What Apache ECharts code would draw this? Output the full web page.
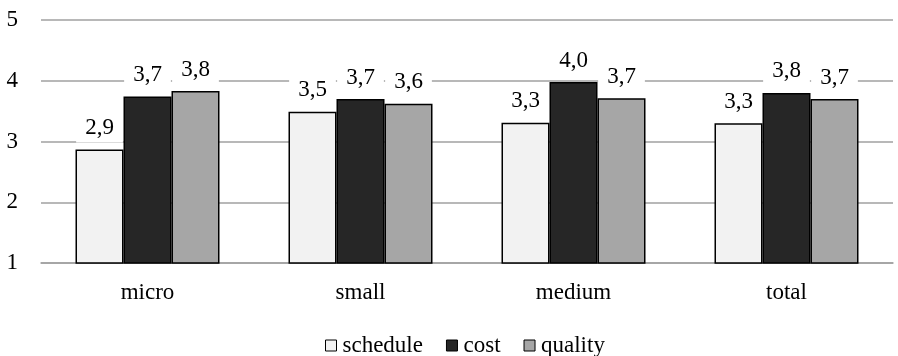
<!DOCTYPE html>
<html>
<head>
<meta charset="utf-8">
<script src="https://cdn.jsdelivr.net/npm/echarts@6/dist/echarts.min.js"></script>
<style>
  html, body { margin: 0; padding: 0; background: #fff; }
  #chart { width: 898px; height: 356px; }
</style>
</head>
<body>
<div id="chart"></div>
<script>
// Mean ratings per company size
const categories = ['micro', 'small', 'medium', 'total'];
const seriesNames = ['schedule', 'cost', 'quality'];
const scheduleValues = [2.87, 3.49, 3.31, 3.30];
const costValues = [3.74, 3.70, 3.98, 3.80];
const qualityValues = [3.83, 3.62, 3.71, 3.70];
const yTicks = [1, 2, 3, 4, 5];

const FONT = "'Liberation Serif', 'Times New Roman', serif";
const FS = 23;
const fills = ['#f2f2f2', '#262626', '#a6a6a6'];
const valueSets = [scheduleValues, costValues, qualityValues];

const chart = echarts.init(document.getElementById('chart'), null, { renderer: 'canvas' });

const series = seriesNames.map((name, i) => ({
  name: name,
  type: 'bar',
  data: valueSets[i],
  barWidth: 48,
  barGap: '0%',
  itemStyle: { color: fills[i], borderColor: '#000', borderWidth: 1.5 },
  label: {
    show: true,
    position: 'top',
    distance: 7,
    formatter: p => p.value.toFixed(1).replace('.', ','),
    fontFamily: FONT,
    fontSize: FS,
    lineHeight: 23,
    color: '#000',
    backgroundColor: '#fff',
    padding: [3, 9, 3, 9]
  }
}));

chart.setOption({
  animation: false,
  backgroundColor: '#fff',
  textStyle: { fontFamily: FONT },
  grid: { left: 41, right: 5, top: 20, bottom: 93 },
  legend: {
    data: seriesNames,
    top: 334,
    left: 325,
    padding: 0,
    itemWidth: 11,
    itemHeight: 11,
    itemGap: 23,
    icon: 'rect',
    itemStyle: { borderColor: '#000', borderWidth: 1 },
    textStyle: { fontFamily: FONT, fontSize: FS, lineHeight: 23, color: '#000', padding: [0, 0, 0, 1] }
  },
  xAxis: {
    type: 'category',
    data: categories,
    axisTick: { show: false },
    axisLine: { lineStyle: { color: '#a0a0a0', width: 1.5 } },
    axisLabel: { fontFamily: FONT, fontSize: FS, color: '#000', margin: 18 }
  },
  yAxis: {
    type: 'value',
    min: yTicks[0],
    max: yTicks[yTicks.length - 1],
    interval: 1,
    axisLine: { show: false },
    axisTick: { show: false },
    splitLine: { lineStyle: { color: '#a0a0a0', width: 1.5 } },
    axisLabel: { fontFamily: FONT, fontSize: FS, color: '#000', margin: 23 }
  },
  series: series
});
</script>
</body>
</html>
